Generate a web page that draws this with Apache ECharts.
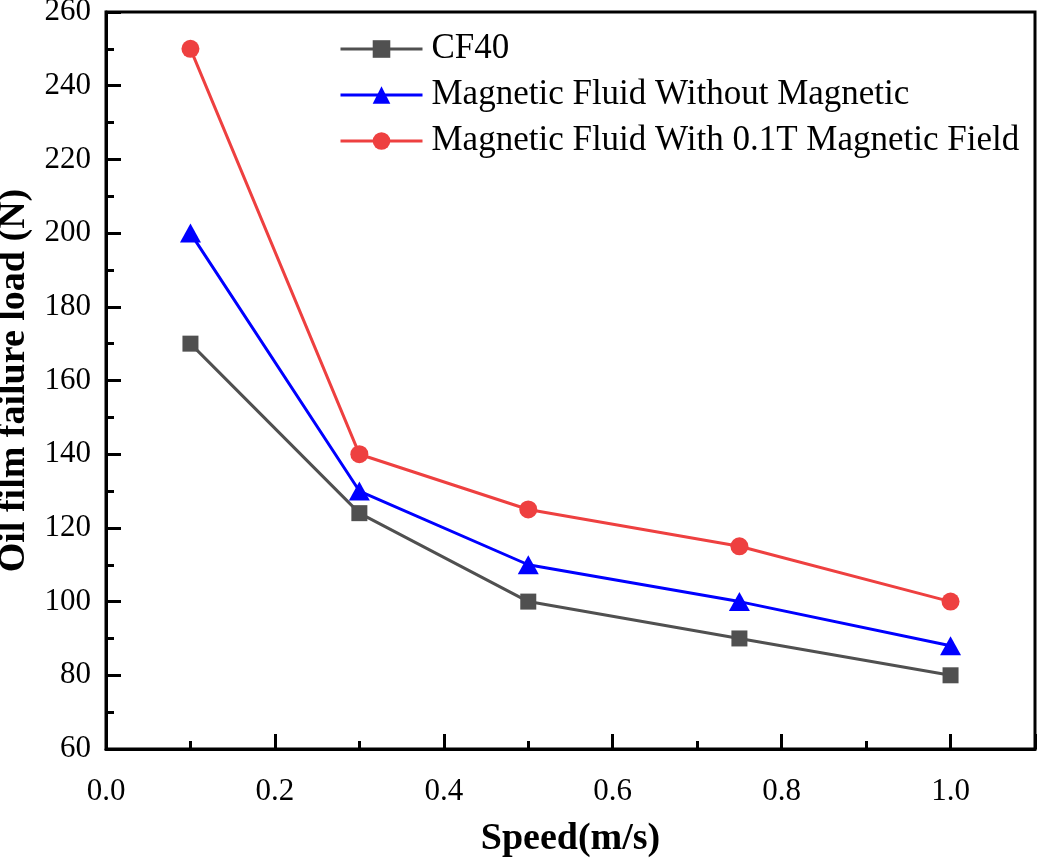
<!DOCTYPE html>
<html>
<head>
<meta charset="utf-8">
<script src="https://cdn.jsdelivr.net/npm/echarts@6/dist/echarts.min.js"></script>
<style>html,body{margin:0;padding:0;background:#fff}#c{width:1037px;height:859px}</style>
</head>
<body>
<div id="c"></div>
<script>
const speeds = [0.1, 0.3, 0.5, 0.75, 1.0];
const cf40 = [170, 124, 100, 90, 80];
const withoutMag = [200, 130, 110, 100, 88];
const withMag = [250, 140, 125, 115, 100];
const seriesNames = ['CF40', 'Magnetic Fluid Without Magnetic', 'Magnetic Fluid With 0.1T Magnetic Field'];
const xTickLabels = ['0.0', '0.2', '0.4', '0.6', '0.8', '1.0'];

const font = '"Liberation Serif", "Times New Roman", serif';
const pair = arr => speeds.map((s, i) => [s, arr[i]]);

const chart = echarts.init(document.getElementById('c'), null, {renderer: 'canvas'});
chart.setOption({
  animation: false,
  backgroundColor: '#fff',
  textStyle: {fontFamily: font},
  grid: {left: 106, right: 2, top: 12, bottom: 110, show: true, borderColor: '#000', borderWidth: 3,
         backgroundColor: 'transparent', outerBoundsMode: 'none', containLabel: false},
  legend: {
    orient: 'vertical', left: 339, top: 31, padding: 0,
    itemWidth: 82, itemHeight: 22, itemGap: 10,
    lineStyle: {width: 3},
    textStyle: {fontFamily: font, fontSize: 35, color: '#000', lineHeight: 36, padding: [0, 0, 0, 4]},
    data: seriesNames
  },
  xAxis: [{
    type: 'value', min: 0, max: 1.1, interval: 0.1,
    name: 'Speed(m/s)', nameLocation: 'middle', nameGap: 71,
    nameTextStyle: {fontFamily: font, fontSize: 38, fontWeight: 'bold', color: '#000'},
    axisLine: {show: true, lineStyle: {color: '#000', width: 3}},
    axisTick: {show: true, inside: true, length: 8, lineStyle: {color: '#000', width: 3}},
    axisLabel: {
      fontFamily: font, fontSize: 31, color: '#000', margin: 27,
      formatter: v => { const s = v.toFixed(1); return xTickLabels.indexOf(s) >= 0 ? s : ''; }
    },
    splitLine: {show: false}
  }, {
    type: 'value', min: 0, max: 1.1, interval: 0.2, position: 'bottom',
    axisLine: {show: false},
    axisTick: {show: true, inside: true, length: 15, lineStyle: {color: '#000', width: 3}},
    axisLabel: {show: false},
    splitLine: {show: false}
  }],
  yAxis: {
    type: 'value', min: 60, max: 260, interval: 20,
    name: 'Oil film failure load (N)', nameLocation: 'middle', nameGap: 64,
    nameTextStyle: {fontFamily: font, fontSize: 38, fontWeight: 'bold', color: '#000'},
    axisLine: {show: true, lineStyle: {color: '#000', width: 3}},
    axisTick: {show: true, inside: true, length: 15, lineStyle: {color: '#000', width: 3}},
    minorTick: {show: true, splitNumber: 2, length: 8, lineStyle: {color: '#000', width: 3}},
    axisLabel: {fontFamily: font, fontSize: 31, color: '#000', margin: 15},
    splitLine: {show: false}
  },
  series: [{
    name: seriesNames[0], type: 'line', xAxisIndex: 0, data: pair(cf40),
    symbol: 'rect', symbolSize: 16,
    lineStyle: {color: '#505050', width: 3}, itemStyle: {color: '#505050'}
  }, {
    name: seriesNames[1], type: 'line', xAxisIndex: 0, data: pair(withoutMag),
    symbol: 'triangle', symbolSize: [21, 19],
    lineStyle: {color: '#0000FF', width: 3}, itemStyle: {color: '#0000FF'}
  }, {
    name: seriesNames[2], type: 'line', xAxisIndex: 0, data: pair(withMag),
    symbol: 'circle', symbolSize: 18,
    lineStyle: {color: '#EE4040', width: 3}, itemStyle: {color: '#EE4040'}
  }]
});
</script>
</body>
</html>
